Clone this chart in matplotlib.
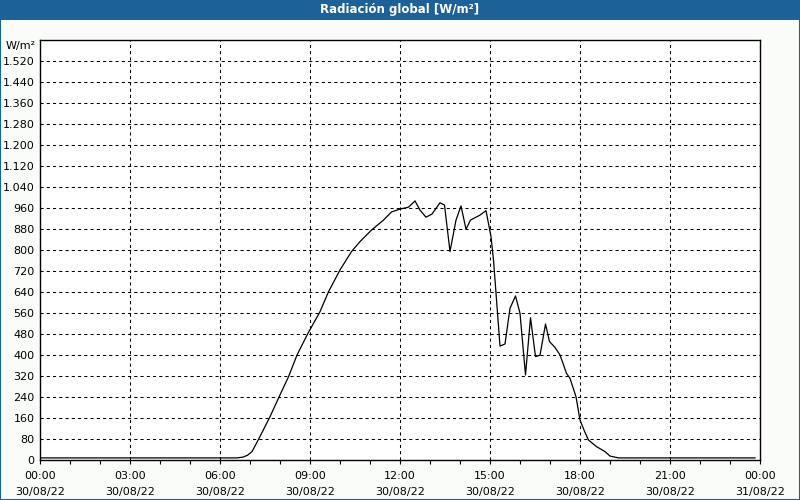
import matplotlib
matplotlib.use("Agg")
import matplotlib.dates as mdates
import matplotlib.pyplot as plt
import matplotlib.ticker as mticker
import pandas as pd
from matplotlib.patches import Rectangle

# ── Datos ────────────────────────────────────────────────────────────────────
horas = [
    "00:00", "06:34", "06:46", "06:55", "07:04", "07:13", "07:26", "07:40",
    "08:00", "08:17", "08:34", "08:56", "09:20", "09:37", "10:00", "10:23",
    "10:40", "11:03", "11:27", "11:43", "12:00", "12:17", "12:30", "12:40",
    "12:52", "13:04", "13:20", "13:29", "13:40", "13:52", "14:02", "14:12",
    "14:21", "14:40", "14:52", "15:02", "15:07", "15:20", "15:30", "15:40",
    "15:51", "16:00", "16:11", "16:21", "16:31", "16:40", "16:51", "16:59",
    "17:10", "17:20", "17:33", "17:40", "17:52", "18:00", "18:10", "18:17",
    "18:33", "18:50", "19:00", "19:17", "23:50",
]
radiacion = [
    8, 8, 11, 18, 32, 64, 112, 165,
    248, 317, 400, 483, 565, 641, 724, 794,
    832, 876, 914, 945, 956, 963, 987, 952,
    925, 937, 980, 971, 794, 914, 968, 879,
    914, 933, 950, 851, 762, 434, 442, 578,
    625, 559, 324, 542, 394, 399, 518, 451,
    429, 400, 330, 311, 241, 152, 105, 76,
    51, 32, 15, 8, 8,
]
yticks = list(range(0, 1600, 80))

AZUL = "#1c6198"
FONDO = "#fafcfa"

t = pd.to_datetime(["2022-08-30 " + h for h in horas])

fig = plt.figure(figsize=(8, 5), dpi=100, facecolor=FONDO)
ax = fig.add_axes([0.05, 0.08, 0.90, 0.84])
ax.set_facecolor("white")

# ── Cabecera y marco ────────────────────────────────────────────────────────
fig.patches.append(Rectangle((0, 0.96), 1, 0.04, transform=fig.transFigure,
                             facecolor=AZUL, edgecolor="none", zorder=0))
fig.patches.append(Rectangle((0.0006, 0.001), 0.9988, 0.998, transform=fig.transFigure,
                             facecolor="none", edgecolor=AZUL, lw=1.5, zorder=0))
fig.text(0.5, 0.98, "Radiación global [W/m²]", color="white", fontsize=8.5,
         fontweight="bold", ha="center", va="center")

ax.plot(t, radiacion, color="black", lw=0.9, zorder=3)

t0 = pd.Timestamp("2022-08-30 00:00")
ax.set_xlim(t0, t0 + pd.Timedelta(hours=24))
ax.set_ylim(0, 1600)

ax.xaxis.set_major_locator(mdates.HourLocator(interval=3))
ax.xaxis.set_minor_locator(mdates.HourLocator(interval=1))
ax.xaxis.set_major_formatter(mdates.DateFormatter("%H:%M\n%d/%m/%y"))
ax.set_yticks(yticks)
ax.yaxis.set_major_formatter(mticker.FuncFormatter(
    lambda v, p: f"{int(v):,}".replace(",", ".")))

ax.grid(True, which="major", color="black", lw=0.75, linestyle=(0, (3, 3)))
ax.tick_params(axis="x", which="both", direction="out", length=3, width=0.8,
               labelsize=8, pad=5)
ax.tick_params(axis="y", length=0, labelsize=8, pad=4)
for lbl in ax.get_xticklabels():
    lbl.set_linespacing(1.7)
for s in ax.spines.values():
    s.set_linewidth(1)
    s.set_color("black")

ax.text(-0.006, 0.985, "W/m²", transform=ax.transAxes, ha="right", va="center",
        fontsize=8)

fig.savefig("out.png", dpi=100, facecolor=FONDO)
